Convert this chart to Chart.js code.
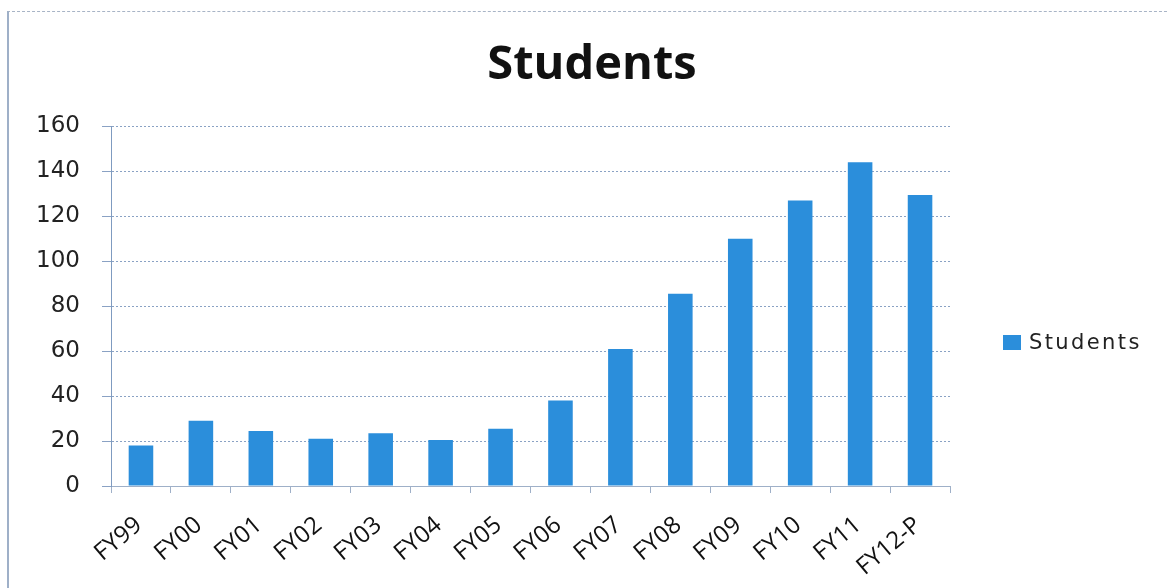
<!DOCTYPE html>
<html>
<head>
<meta charset="utf-8">
<script src="https://cdn.jsdelivr.net/npm/chart.js@4/dist/chart.umd.min.js"></script>
<style>
html,body{margin:0;padding:0;background:#fff;}
#wrap{position:relative;width:1168px;height:588px;overflow:hidden;}
#frame{position:absolute;left:7px;top:11px;width:1170px;height:590px;border-left:2px solid #9fb0c8;border-top:1px dashed #a8b4c6;box-sizing:border-box;}
#legend{position:absolute;left:1003px;top:330px;font-family:"DejaVu Sans",Verdana,sans-serif;font-size:21px;letter-spacing:2.4px;color:#222;display:flex;align-items:center;}
#legend span.box{display:inline-block;width:18px;height:15px;background:#2b8edb;margin-right:8px;}
canvas{position:absolute;left:0;top:0;}
</style>
</head>
<body>
<div id="wrap">
<div id="frame"></div>
<canvas id="c" width="1168" height="588"></canvas>
<div id="legend"><span class="box"></span><span id="legtext"></span></div>
</div>
<script>
const categories = ["FY99","FY00","FY01","FY02","FY03","FY04","FY05","FY06","FY07","FY08","FY09","FY10","FY11","FY12-P"];
const students = [18, 29, 24.5, 21, 23.5, 20.5, 25.5, 38, 61, 85.5, 110, 127, 144, 129.5];
const seriesName = "Students";
const chartTitle = "Students";
const yMin = 0, yMax = 160, yStep = 20;

document.getElementById('legtext').textContent = seriesName;

new Chart(document.getElementById('c'), {
  type: 'bar',
  data: {
    labels: categories,
    datasets: [{
      label: seriesName,
      data: students,
      backgroundColor: '#2b8edb',
      borderWidth: 0,
      barPercentage: 0.41,
      categoryPercentage: 1.0,
      yAxisID: 'y'
    }]
  },
  options: {
    responsive: false,
    animation: false,
    layout: { padding: { left: 16, right: 0, top: 0, bottom: 0 } },
    plugins: {
      legend: { display: false },
      tooltip: { enabled: false },
      title: {
        display: true,
        text: chartTitle,
        font: { family: 'Open Sans', size: 47, weight: 'bold', lineHeight: 1.2 },
        color: '#111',
        padding: { top: 37, bottom: 33 }
      }
    },
    scales: {
      x: {
        afterFit(scale) { scale.height = 102; },
        grid: { display: true, drawOnChartArea: false, drawTicks: true, tickLength: 7, color: '#9fb0c8', offset: true },
        border: { display: true, color: '#9fb0c8', width: 1 },
        ticks: {
          font: { family: 'Open Sans', size: 24 },
          color: '#111',
          maxRotation: 40,
          minRotation: 40,
          autoSkip: false,
          padding: 18,
          labelOffset: -2
        }
      },
      y: {
        position: 'left',
        min: yMin, max: yMax,
        afterFit(scale) { scale.width = 95; },
        ticks: { stepSize: yStep, font: { family: 'DejaVu Sans', size: 23 }, color: '#222', padding: 22 },
        grid: { color: '#8aa2c4', lineWidth: 1, tickLength: 9, drawTicks: true },
        border: { display: true, color: '#7f9bc0', width: 1, dash: [2, 2] }
      },
      yR: {
        position: 'right',
        display: true,
        afterFit(scale) { scale.width = 218; },
        ticks: { display: false },
        grid: { display: false, drawOnChartArea: false },
        border: { display: false }
      }
    }
  }
});
</script>
</body>
</html>
